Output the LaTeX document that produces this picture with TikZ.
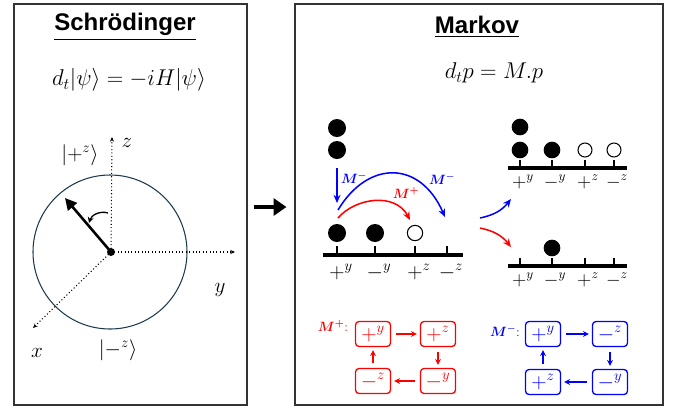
\RequirePackage{fix-cm}
\documentclass[tikz,border=0pt]{standalone}
\usepackage{fontspec}
\usepackage{amsmath,bm}
\newfontfamily\titlefont{Liberation Sans}
\usetikzlibrary{arrows.meta}
\definecolor{esfera}{HTML}{1F3A4D}
\definecolor{rojo}{HTML}{FF0000}
\definecolor{azul}{HTML}{0000FF}
\begin{document}
\begin{tikzpicture}[x=0.03cm,y=-0.03cm,
  titulo/.style={font=\titlefont\fontsize{20.5}{24}\selectfont\bfseries},
  ecu/.style={font=\fontsize{19.5}{23}\selectfont},
  etq/.style={font=\fontsize{18}{21}\selectfont},
  etqb/.style={font=\fontsize{16}{19}\selectfont},
  emm/.style={font=\fontsize{11.5}{14}\selectfont},
  marco/.style={draw=black!80,line width=0.9pt,inner sep=0pt},
  bola/.style={circle,fill=black,minimum size=0.54cm,inner sep=0pt},
  bolab/.style={circle,fill=black,minimum size=0.5cm,inner sep=0pt},
  hueca/.style={circle,draw=black,line width=0.9pt,minimum size=0.46cm,inner sep=0pt},
  eje/.style={dotted,line width=0.9pt,-{Stealth[length=4pt,width=3.5pt]}},
  linea/.style={line width=2.8pt},
  marca/.style={line width=1.6pt},
  arco/.style={line width=1.3pt,-{Stealth[length=7pt,width=6pt]}},
  est/.style={draw,rounded corners=3pt,line width=1.1pt,minimum width=1.05cm,minimum height=0.75cm,inner sep=0pt,font=\fontsize{18}{21}\selectfont},
  ciclo/.style={line width=1.3pt,-{Stealth[length=5pt,width=5pt]},shorten <=0.15cm,shorten >=0.09cm}]
  \useasboundingbox (0,0) rectangle (677,410);
  % marcos
  \node[marco,minimum width=6.99cm,minimum height=12.03cm] (lbox) at (130.5,204.5) {};
  \node[marco,minimum width=11.04cm,minimum height=12.03cm] (rbox) at (479,204.5) {};
  \draw[line width=4pt,-{Triangle[length=11pt,width=14.5pt]},shorten <=0.18cm,shorten >=0.24cm] ([yshift=-2.5*0.03cm]lbox.east) -- ([yshift=-2.5*0.03cm]rbox.west);
  % Schrodinger
  \node[titulo] (tS) at (125,27) {\underline{Schrödinger}};
  \node[ecu] (eS) at (129,80) {$d_t|\psi\rangle = -iH|\psi\rangle$};
  \node[circle,draw=esfera,line width=0.9pt,minimum size=4.62cm,inner sep=0pt] (esf) at (110,252) {};
  \node[circle,fill=black,minimum size=0.24cm,inner sep=0pt] (o) at (111,252) {};
  \coordinate (zt) at (112,137);
  \coordinate (yt) at (235,252);
  \coordinate (xt) at (33,328);
  \coordinate (psi) at (65,198);
  \coordinate (r1) at (108,213);
  \coordinate (r2) at (89,223);
  \draw[eje] (o.center) -- (zt);
  \draw[eje] (o.center) -- (yt);
  \draw[eje] (o.center) -- (xt);
  \draw[line width=2.2pt,-{Triangle[length=10pt,width=10pt]}] (o.center) -- (psi);
  \draw[line width=1.1pt,-{Stealth[length=5pt,width=5pt]}] (r1) to[bend right=45] (r2);
  \node[etq] (kp) at (80,155) {$|{+}^{z}\rangle$};
  \node[etq] (kz) at (127,143) {$z$};
  \node[etq] (ky) at (220,290) {$y$};
  \node[etq] (kx) at (37,353) {$x$};
  \node[etq] (km) at (118,350) {$|{-}^{z}\rangle$};
  % Markov
  \node[titulo] (tM) at (477,27) {\underline{Markov}};
  \node[ecu] (eM) at (494,73) {$d_t p = M.p$};
  % estado inicial
  \draw[linea] (323,255) -- (463,255);
  \foreach \x in {337,375,415,447} \draw[marca] (\x,255) -- (\x,246);
  \foreach \x/\t [count=\i] in {337/+^{y},375/-^{y},415/+^{z},447/-^{z}}
    \node[etq] (a\i) at (\x+4,272) {$\t$};
  \node[bola] (s1) at (337,128) {};
  \node[bola] (s2) at (337,150) {};
  \node[bola] (d1) at (337,233) {};
  \node[bola] (d2) at (375,233) {};
  \node[hueca] (d3) at (415,233) {};
  \coordinate (p0) at (337,203);
  \coordinate (p1) at (338,210);
  \coordinate (p2) at (445,217);
  \coordinate (p3) at (338,218);
  \coordinate (p4) at (410,220);
  \draw[arco,azul,shorten <=0.27cm] (s2) -- (p0);
  \draw[arco,azul] (p1) .. controls (368,160) and (420,160) .. (p2);
  \draw[arco,rojo] (p3) .. controls (355,198) and (395,192) .. (p4);
  \node[azul,emm] (m1) at (354,178) {$\bm{M^{-}}$};
  \node[azul,emm] (m2) at (442,179) {$\bm{M^{-}}$};
  \node[rojo,emm] (m3) at (406,193) {$\bm{M^{+}}$};
  % estados finales
  \draw[linea] (508,168) -- (627,168);
  \draw[linea] (508,266) -- (627,266);
  \foreach \x in {520,552,585,614} {
    \draw[marca] (\x,168) -- (\x,160);
    \draw[marca] (\x,266) -- (\x,258);
  }
  \foreach \x/\t [count=\i] in {520/+^{y},552/-^{y},585/+^{z},614/-^{z}} {
    \node[etqb] (b\i) at (\x+3,182) {$\t$};
    \node[etqb] (c\i) at (\x+3,280) {$\t$};
  }
  \node[bolab] (u1) at (520,127) {};
  \node[bolab] (u2) at (520,150) {};
  \node[bolab] (u3) at (552,150) {};
  \node[hueca,minimum size=0.42cm] (u4) at (585,150) {};
  \node[hueca,minimum size=0.42cm] (u5) at (614,150) {};
  \node[bolab] (v1) at (552,248) {};
  \coordinate (q1) at (480,218);
  \coordinate (q2) at (511,199);
  \coordinate (q3) at (480,228);
  \coordinate (q4) at (511,247);
  \draw[arco,azul] (q1) to[bend right=20] (q2);
  \draw[arco,rojo] (q3) to[bend left=20] (q4);
  % ciclos
  \node[rojo,emm] (lp) at (333,326) {$\bm{M^{+}}$:};
  \node[est,rojo] (r1y) at (373,334) {$+^{y}$};
  \node[est,rojo] (r1z) at (438,334) {$+^{z}$};
  \node[est,rojo] (r2z) at (373,381) {$-^{z}$};
  \node[est,rojo] (r2y) at (438,381) {$-^{y}$};
  \draw[ciclo,rojo] (r1y) -- (r1z);
  \draw[ciclo,rojo] (r1z) -- (r2y);
  \draw[ciclo,rojo] (r2y) -- (r2z);
  \draw[ciclo,rojo] (r2z) -- (r1y);
  \node[azul,emm] (lm) at (505,331) {$\bm{M^{-}}$:};
  \node[est,azul] (b1y) at (543,334) {$+^{y}$};
  \node[est,azul] (b1z) at (610,334) {$-^{z}$};
  \node[est,azul] (b2z) at (543,382) {$+^{z}$};
  \node[est,azul] (b2y) at (610,382) {$-^{y}$};
  \draw[ciclo,azul] (b1y) -- (b1z);
  \draw[ciclo,azul] (b1z) -- (b2y);
  \draw[ciclo,azul] (b2y) -- (b2z);
  \draw[ciclo,azul] (b2z) -- (b1y);
\end{tikzpicture}
\end{document}
